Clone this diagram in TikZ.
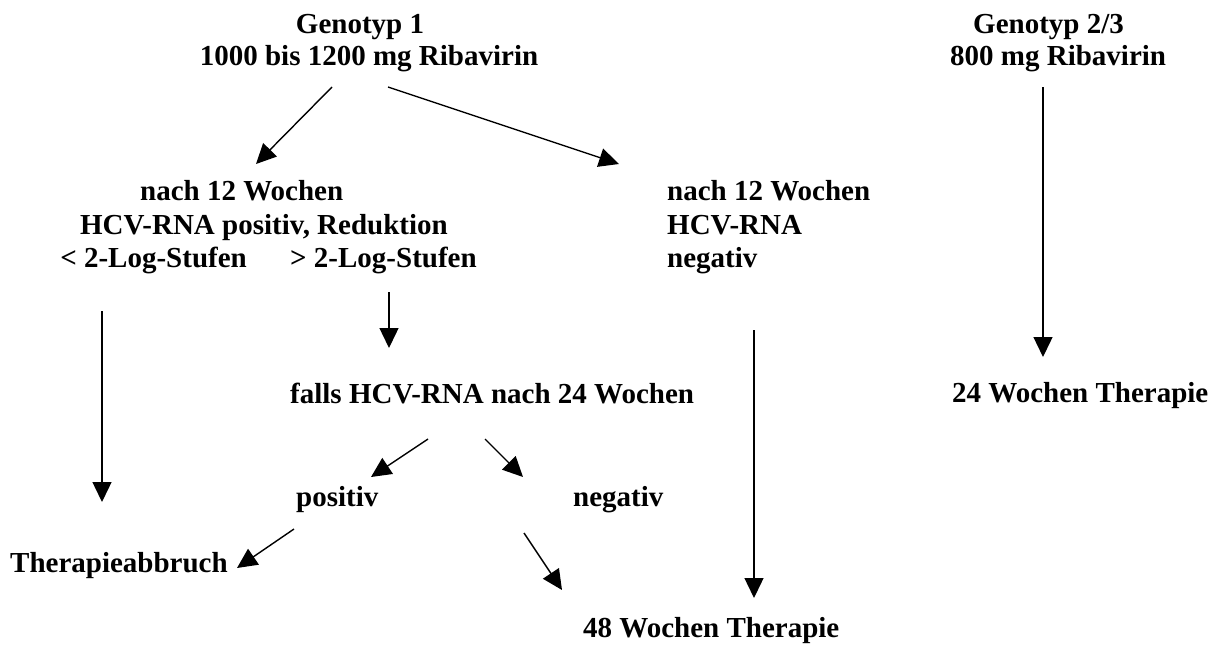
\documentclass[tikz,border=0pt]{standalone}
\usepackage{fontspec}
\setmainfont{Liberation Serif}
\usetikzlibrary{arrows.meta}
\begin{document}
\begin{tikzpicture}[x=1pt,y=-1pt,
  txt/.style={inner sep=0pt,font=\bfseries\fontsize{29pt}{32pt}\selectfont},
  arr/.style={line width=1.4pt,-{Triangle[length=20pt,width=19pt]}}]
\useasboundingbox[fill=white] (0,0) rectangle (1220,645);
% texts
\node[txt,anchor=base] (g1a) at (360,33) {Genotyp 1};
\node[txt,anchor=base] (g1b) at (369,65) {1000 bis 1200 mg Ribavirin};
\node[txt,anchor=base west] (g2a) at (973,33) {Genotyp 2/3};
\node[txt,anchor=base west] (g2b) at (950,65) {800 mg Ribavirin};
\node[txt,anchor=base west] (la) at (140,200) {nach 12 Wochen};
\node[txt,anchor=base east] (lb) at (448,234) {HCV-RNA positiv, Reduktion};
\node[txt,anchor=base east] (lc) at (247,267) {< 2-Log-Stufen};
\node[txt,anchor=base west] (ld) at (290,267) {> 2-Log-Stufen};
\node[txt,anchor=base west] (ra) at (667,200) {nach 12 Wochen};
\node[txt,anchor=base west] (rb) at (667,234) {HCV-RNA};
\node[txt,anchor=base west] (rc) at (667,267) {negativ};
\node[txt,anchor=base west] (falls) at (290,403) {falls HCV-RNA nach 24 Wochen};
\node[txt,anchor=base west] (w24) at (952,402) {24 Wochen Therapie};
\node[txt,anchor=base west] (pos) at (296,506) {positiv};
\node[txt,anchor=base west] (neg) at (573,506) {negativ};
\node[txt,anchor=base west] (abb) at (10,572) {Therapieabbruch};
\node[txt,anchor=base west] (w48) at (583,637) {48 Wochen Therapie};
% connector end points
\coordinate (c1s) at (332,87);  \coordinate (c1e) at (256,164);
\coordinate (c2s) at (388,87);  \coordinate (c2e) at (619,164);
\coordinate (c3s) at (1043,87); \coordinate (c3e) at (1043,357);
\coordinate (c4s) at (102,311); \coordinate (c4e) at (102,502);
\coordinate (c5s) at (389,292); \coordinate (c5e) at (389,348);
\coordinate (c6s) at (754,330); \coordinate (c6e) at (754,598);
\coordinate (c7s) at (428,439); \coordinate (c7e) at (371,477);
\coordinate (c8s) at (485,439); \coordinate (c8e) at (523,477);
\coordinate (c9s) at (294,529); \coordinate (c9e) at (237,568);
\coordinate (c10s) at (524,533); \coordinate (c10e) at (562,590);
\draw[arr] (c1s) -- (c1e);
\draw[arr] (c2s) -- (c2e);
\draw[arr] (c3s) -- (c3e);
\draw[arr] (c4s) -- (c4e);
\draw[arr] (c5s) -- (c5e);
\draw[arr] (c6s) -- (c6e);
\draw[arr] (c7s) -- (c7e);
\draw[arr] (c8s) -- (c8e);
\draw[arr] (c9s) -- (c9e);
\draw[arr] (c10s) -- (c10e);
\end{tikzpicture}
\end{document}
